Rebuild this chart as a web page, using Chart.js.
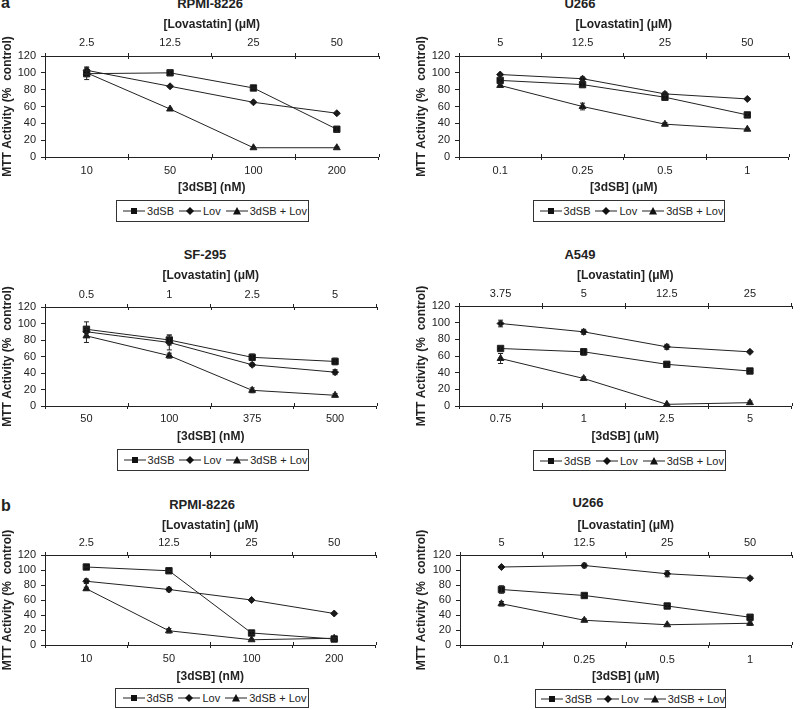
<!DOCTYPE html>
<html>
<head>
<meta charset="utf-8">
<script src="https://cdn.jsdelivr.net/npm/chart.js@4.4.0/dist/chart.umd.min.js"></script>
<style>
body{margin:0;background:#fff;width:800px;height:710px;position:relative;overflow:hidden;font-family:"Liberation Sans",Arial,sans-serif;color:#222}
canvas{position:absolute}
.ttl{position:absolute;font-weight:bold;font-size:13px;line-height:16px;transform:translateX(-50%);white-space:nowrap}
.lbl{position:absolute;font-weight:bold;font-size:16px;line-height:18px}
.leg{position:absolute;border:1px solid #333;box-sizing:border-box;font-size:11px;display:flex;align-items:center;justify-content:center;white-space:nowrap;color:#222}
.leg svg{margin:0 2px 0 5px}
</style>
</head>
<body>

<div class="lbl" style="left:1px;top:-6px">a</div>
<div class="lbl" style="left:1px;top:497px">b</div>

<div class="ttl" style="left:210px;top:-4px">RPMI-8226</div>
<div class="ttl" style="left:580px;top:-4px">U266</div>
<div class="ttl" style="left:205px;top:247px">SF-295</div>
<div class="ttl" style="left:580px;top:247px">A549</div>
<div class="ttl" style="left:202px;top:497px">RPMI-8226</div>
<div class="ttl" style="left:588px;top:495px">U266</div>

<canvas id="c1" width="384" height="183" style="left:0;top:12px"></canvas>
<canvas id="c2" width="394" height="183" style="left:400px;top:12px"></canvas>
<canvas id="c3" width="382" height="181" style="left:0;top:263px"></canvas>
<canvas id="c4" width="397" height="181" style="left:400px;top:263px"></canvas>
<canvas id="c5" width="381" height="171" style="left:0;top:513px"></canvas>
<canvas id="c6" width="397" height="171" style="left:400px;top:513px"></canvas>

<div class="leg" style="left:116px;top:200px;width:193px;height:22px"></div>
<div class="leg" style="left:533px;top:200px;width:192px;height:22px"></div>
<div class="leg" style="left:117px;top:449px;width:192px;height:22px"></div>
<div class="leg" style="left:533px;top:450px;width:193px;height:21px"></div>
<div class="leg" style="left:115px;top:688px;width:194px;height:20px"></div>
<div class="leg" style="left:535px;top:689px;width:191px;height:19px"></div>

<script>
// series names
let seriesNames = ['3dSB', 'Lov', '3dSB + Lov'];

// a: RPMI-8226
let rpmiA_lovLabels = ['2.5', '12.5', '25', '50'];
let rpmiA_sbLabels = ['10', '50', '100', '200'];
let rpmiA_sb = [99, 100, 82, 33];
let rpmiA_lov = [103, 84, 65, 52];
let rpmiA_combo = [100, 57, 11, 11];
let rpmiA_sbErr = [7, 3, 1, 3];
let rpmiA_lovErr = [4, 1, 1, 1];
let rpmiA_comboErr = [2, 1, 1, 1];

// a: U266
let u266A_lovLabels = ['5', '12.5', '25', '50'];
let u266A_sbLabels = ['0.1', '0.25', '0.5', '1'];
let u266A_sb = [91, 86, 71, 50];
let u266A_lov = [98, 93, 75, 69];
let u266A_combo = [85, 60, 39, 33];
let u266A_sbErr = [2, 2, 2, 2];
let u266A_lovErr = [1, 2, 2, 1];
let u266A_comboErr = [2, 4, 2, 1];

// a: SF-295
let sf_lovLabels = ['0.5', '1', '2.5', '5'];
let sf_sbLabels = ['50', '100', '375', '500'];
let sf_sb = [93, 80, 59, 54];
let sf_lov = [90, 77, 50, 41];
let sf_combo = [85, 61, 19, 13];
let sf_sbErr = [9, 6, 4, 4];
let sf_lovErr = [5, 9, 2, 3];
let sf_comboErr = [8, 3, 3, 2];

// a: A549
let a549_lovLabels = ['3.75', '5', '12.5', '25'];
let a549_sbLabels = ['0.75', '1', '2.5', '5'];
let a549_sb = [69, 65, 50, 42];
let a549_lov = [99, 89, 71, 65];
let a549_combo = [57, 33, 2, 4];
let a549_sbErr = [2, 4, 3, 2];
let a549_lovErr = [4, 3, 3, 1];
let a549_comboErr = [6, 2, 1, 2];

// b: RPMI-8226
let rpmiB_lovLabels = ['2.5', '12.5', '25', '50'];
let rpmiB_sbLabels = ['10', '50', '100', '200'];
let rpmiB_sb = [104, 99, 16, 8];
let rpmiB_lov = [85, 74, 60, 42];
let rpmiB_combo = [75, 19, 7, 9];
let rpmiB_sbErr = [1, 1, 2, 2];
let rpmiB_lovErr = [3, 3, 1, 1];
let rpmiB_comboErr = [2, 3, 1, 1];

// b: U266
let u266B_lovLabels = ['5', '12.5', '25', '50'];
let u266B_sbLabels = ['0.1', '0.25', '0.5', '1'];
let u266B_sb = [74, 66, 52, 37];
let u266B_lov = [104, 106, 95, 89];
let u266B_combo = [55, 33, 27, 29];
let u266B_sbErr = [5, 1, 2, 2];
let u266B_lovErr = [2, 3, 4, 2];
let u266B_comboErr = [3, 2, 1, 3];

let ink = '#222';
Chart.defaults.font.family = '"Liberation Sans", Arial, sans-serif';
Chart.defaults.color = ink;

// error bars drawn through the y scale
const errorBars = {
	id: 'errorBars',
	afterDatasetsDraw(chart) {
		let ctx = chart.ctx, y = chart.scales.y;
		ctx.save();
		ctx.strokeStyle = ink;
		ctx.lineWidth = 1;
		chart.data.datasets.forEach((ds, i) => {
			chart.getDatasetMeta(i).data.forEach((pt, j) => {
				let e = ds.errors[j];
				let t = y.getPixelForValue(ds.data[j] + e), b = y.getPixelForValue(ds.data[j] - e);
				ctx.beginPath();
				ctx.moveTo(pt.x, t); ctx.lineTo(pt.x, b);
				ctx.moveTo(pt.x - 2.5, t); ctx.lineTo(pt.x + 2.5, t);
				ctx.moveTo(pt.x - 2.5, b); ctx.lineTo(pt.x + 2.5, b);
				ctx.stroke();
			});
		});
		ctx.restore();
	}
};

// excel style ticks crossing the x axes
const crossTicks = {
	id: 'crossTicks',
	afterDraw(chart) {
		let ctx = chart.ctx, area = chart.chartArea;
		ctx.save();
		ctx.strokeStyle = ink;
		ctx.lineWidth = 1;
		['x', 'x2'].forEach(id => {
			let s = chart.scales[id];
			let yy = id === 'x' ? area.bottom : area.top;
			let dir = id === 'x' ? -1 : 1;
			let n = s.getLabels().length;
			for (let i = 0; i <= n; i++) {
				let px = Math.round(s.getPixelForValue(i - 0.5)) + 0.5;
				ctx.beginPath();
				ctx.moveTo(px, yy);
				ctx.lineTo(px, yy + dir * 3);
				ctx.stroke();
			}
		});
		ctx.restore();
	}
};

function series(label, data, errors, style) {
	let r = { rect: 4.5, rectRot: 3.5, triangle: 4 };
	return {
		label: label, data: data, errors: errors,
		pointStyle: style, pointRadius: r[style],
		borderColor: ink, backgroundColor: '#111', borderWidth: 1,
		pointBorderWidth: 1, clip: false, xAxisID: 'x', yAxisID: 'y'
	};
}

function axisX(pos, labels, title, height, pad) {
	let t = { display: true, text: title, color: ink, font: { size: 12, weight: 'bold' },
		padding: pos === 'top' ? { top: 5, bottom: 0 } : { top: 0, bottom: 0 } };
	let ax = {
		type: 'category', position: pos, offset: true,
		grid: { display: true, drawOnChartArea: false, tickLength: 3, color: ink, offset: true },
		border: { color: ink, width: 1 },
		ticks: { color: ink, font: { size: 11 }, padding: pad, maxRotation: 0, autoSkip: false },
		title: t,
		afterFit: s => { s.height = height; }
	};
	if (labels) ax.labels = labels;
	return ax;
}

function panel(id, lovLabels, sbLabels, unit, sb, lov, combo, sbErr, lovErr, comboErr, g) {
	let ctx = document.getElementById(id).getContext('2d');
	return new Chart(ctx, {
		type: 'line',
		data: {
			labels: sbLabels,
			datasets: [
				series(seriesNames[0], sb, sbErr, 'rect'),
				series(seriesNames[1], lov, lovErr, 'rectRot'),
				series(seriesNames[2], combo, comboErr, 'triangle')
			]
		},
		options: {
			responsive: false,
			animation: false,
			layout: { padding: 0 },
			plugins: { legend: { display: false }, tooltip: { enabled: false } },
			scales: {
				x: axisX('bottom', null, '[3dSB] (' + unit + ')', g.botH, g.botPad),
				x2: axisX('top', lovLabels, '[Lovastatin] (\u03bcM)', g.topH, g.topPad),
				y: {
					min: 0, max: 120,
					ticks: { stepSize: 20, autoSkip: false, color: ink, font: { size: 11 }, padding: 5 },
					grid: { display: true, drawOnChartArea: false, tickLength: 4, color: ink },
					border: { color: ink, width: 1 },
					title: { display: true, text: 'MTT Activity (%  control)', color: ink,
						font: { size: 12, weight: 'bold' }, padding: { top: g.yTitle, bottom: 0 } },
					afterFit: s => { s.width = g.yW; }
				}
			}
		},
		plugins: [errorBars, crossTicks]
	});
}

panel('c1', rpmiA_lovLabels, rpmiA_sbLabels, 'nM', rpmiA_sb, rpmiA_lov, rpmiA_combo,
	rpmiA_sbErr, rpmiA_lovErr, rpmiA_comboErr, { yW: 45, yTitle: 0, topH: 44, botH: 38, topPad: 3, botPad: 4 });
panel('c2', u266A_lovLabels, u266A_sbLabels, '\u03bcM', u266A_sb, u266A_lov, u266A_combo,
	u266A_sbErr, u266A_lovErr, u266A_comboErr, { yW: 59, yTitle: 14, topH: 44, botH: 38, topPad: 3, botPad: 4 });
panel('c3', sf_lovLabels, sf_sbLabels, 'nM', sf_sb, sf_lov, sf_combo,
	sf_sbErr, sf_lovErr, sf_comboErr, { yW: 45, yTitle: 0, topH: 44, botH: 38, topPad: 2, botPad: 3 });
panel('c4', a549_lovLabels, a549_sbLabels, '\u03bcM', a549_sb, a549_lov, a549_combo,
	a549_sbErr, a549_lovErr, a549_comboErr, { yW: 59, yTitle: 14, topH: 43, botH: 38, topPad: 2, botPad: 3 });
panel('c5', rpmiB_lovLabels, rpmiB_sbLabels, 'nM', rpmiB_sb, rpmiB_lov, rpmiB_combo,
	rpmiB_sbErr, rpmiB_lovErr, rpmiB_comboErr, { yW: 45, yTitle: 0, topH: 42, botH: 39, topPad: 2, botPad: 4 });
panel('c6', u266B_lovLabels, u266B_sbLabels, '\u03bcM', u266B_sb, u266B_lov, u266B_combo,
	u266B_sbErr, u266B_lovErr, u266B_comboErr, { yW: 60, yTitle: 14, topH: 42, botH: 39, topPad: 2, botPad: 5 });

// legends
let marks = [
	'<rect x="8" y="2" width="6" height="6"/>',
	'<polygon points="11,1 15,5 11,9 7,5"/>',
	'<polygon points="11,1 15,8.5 7,8.5"/>'
];
document.querySelectorAll('.leg').forEach(el => {
	el.innerHTML = seriesNames.map((name, i) =>
		'<svg width="22" height="10" viewBox="0 0 22 10"><line x1="0" y1="5" x2="22" y2="5" stroke="#222" stroke-width="1"/>' +
		'<g fill="#111">' + marks[i] + '</g></svg><span>' + name + '</span>'
	).join('');
});
</script>
</body>
</html>
